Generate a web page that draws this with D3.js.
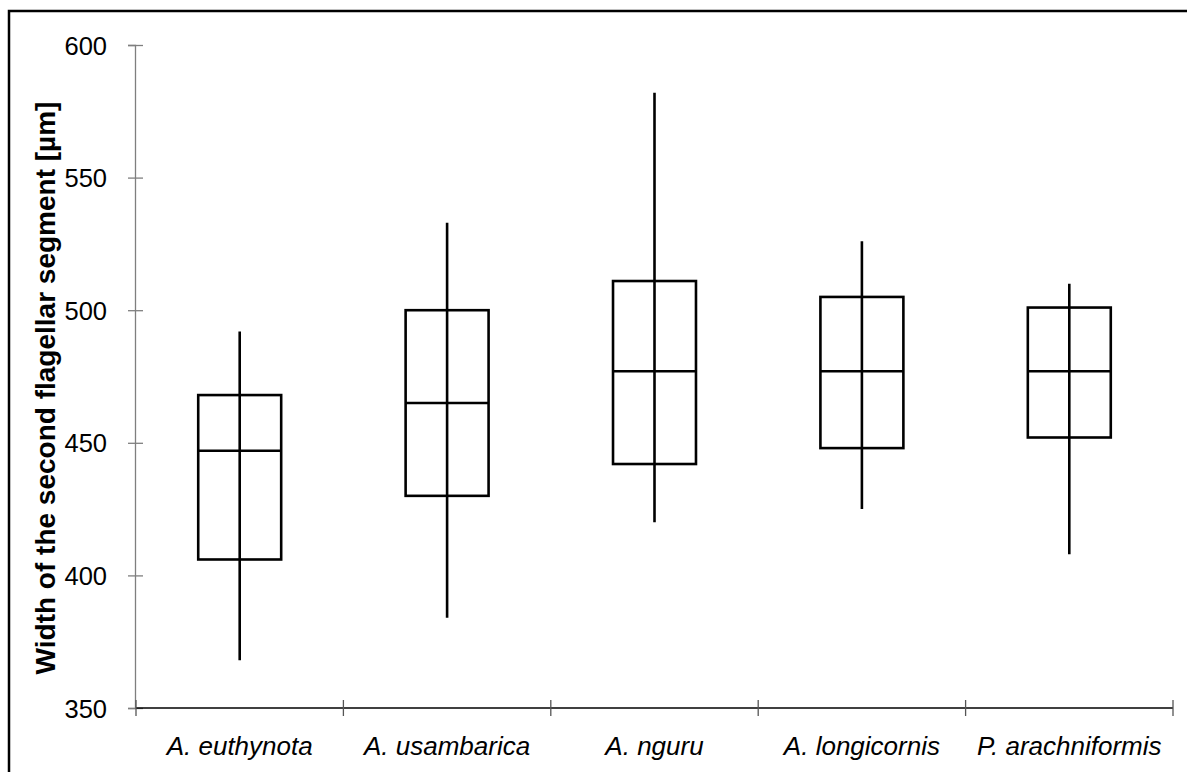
<!DOCTYPE html>
<html>
<head>
<meta charset="utf-8">
<script src="https://cdn.jsdelivr.net/npm/d3@7"></script>
<style>
  html, body { margin: 0; padding: 0; background: #fff; }
  svg { display: block; }
  text { font-family: "Liberation Sans", Arial, sans-serif; fill: #000; }
</style>
</head>
<body>
<svg id="chart" width="1187" height="772"></svg>
<script>
// Species on the x axis
const species = ["A. euthynota", "A. usambarica", "A. nguru", "A. longicornis", "P. arachniformis"];
// Box statistics per species (µm)
const whiskerLow  = [368, 384, 420, 425, 408];
const quartile1   = [406, 430, 442, 448, 452];
const median      = [447, 465, 477, 477, 477];
const quartile3   = [468, 500, 511, 505, 501];
const whiskerHigh = [492, 533, 582, 526, 510];
// Y axis ticks
const yTicks = [350, 400, 450, 500, 550, 600];

const svg = d3.select("#chart");

const y = d3.scaleLinear().domain([350, 600]).range([708, 45]);
const x = d3.scaleBand().domain(species).range([136, 1173]).padding(0);
const boxW = x.bandwidth() * 0.4;

// Outer frame (top and left edges)
svg.append("path")
  .attr("d", "M9,772V11H1187")
  .attr("fill", "none")
  .attr("stroke", "#000")
  .attr("stroke-width", 2.5);

// Y axis
const yAxis = svg.append("g")
  .attr("transform", "translate(135,0)")
  .call(d3.axisLeft(y).tickValues(yTicks).tickSize(7).tickPadding(21).tickFormat(d3.format("d")));
yAxis.select(".domain").attr("stroke", "#7f7f7f").attr("stroke-width", 1.3);
yAxis.selectAll(".tick line").attr("x1", 8).attr("x2", -7).attr("stroke", "#7f7f7f").attr("stroke-width", 1.3);
yAxis.selectAll(".tick text")
  .attr("font-size", 25.5)
  .attr("font-family", "Liberation Sans, Arial, sans-serif")
  .attr("dy", "0.36em");

// X axis with ticks at the category boundaries
const xAxisY = y(350);
const gx = svg.append("g");
gx.append("line")
  .attr("x1", x.range()[0]).attr("x2", x.range()[1])
  .attr("y1", xAxisY).attr("y2", xAxisY)
  .attr("stroke", "#000").attr("stroke-width", 1.3);
const edges = species.map(s => x(s)).concat([x.range()[1]]);
gx.selectAll("line.edge")
  .data(edges)
  .join("line")
  .attr("class", "edge")
  .attr("x1", d => d).attr("x2", d => d)
  .attr("y1", xAxisY - 8).attr("y2", xAxisY + 8)
  .attr("stroke", "#555").attr("stroke-width", 1.3);
gx.selectAll("text.cat")
  .data(species)
  .join("text")
  .attr("class", "cat")
  .attr("x", d => x(d) + x.bandwidth() / 2)
  .attr("y", 755)
  .attr("text-anchor", "middle")
  .attr("font-size", 26)
  .attr("font-style", "italic")
  .text(d => d);

// Y axis title
svg.append("text")
  .attr("transform", "translate(55,388) rotate(-90)")
  .attr("text-anchor", "middle")
  .attr("font-size", 28)
  .attr("font-weight", "bold")
  .text("Width of the second flagellar segment [µm]");

// Boxes
const stats = species.map((s, i) => ({
  s, lo: whiskerLow[i], q1: quartile1[i], med: median[i], q3: quartile3[i], hi: whiskerHigh[i]
}));

const g = svg.append("g")
  .attr("fill", "none")
  .attr("stroke", "#000")
  .attr("stroke-width", 2.6);

const box = g.selectAll("g.box").data(stats).join("g").attr("class", "box");
box.append("line")
  .attr("x1", d => x(d.s) + x.bandwidth() / 2)
  .attr("x2", d => x(d.s) + x.bandwidth() / 2)
  .attr("y1", d => y(d.lo))
  .attr("y2", d => y(d.hi));
box.append("rect")
  .attr("x", d => x(d.s) + (x.bandwidth() - boxW) / 2)
  .attr("width", boxW)
  .attr("y", d => y(d.q3))
  .attr("height", d => y(d.q1) - y(d.q3));
box.append("line")
  .attr("x1", d => x(d.s) + (x.bandwidth() - boxW) / 2)
  .attr("x2", d => x(d.s) + (x.bandwidth() + boxW) / 2)
  .attr("y1", d => y(d.med))
  .attr("y2", d => y(d.med));
</script>
</body>
</html>
